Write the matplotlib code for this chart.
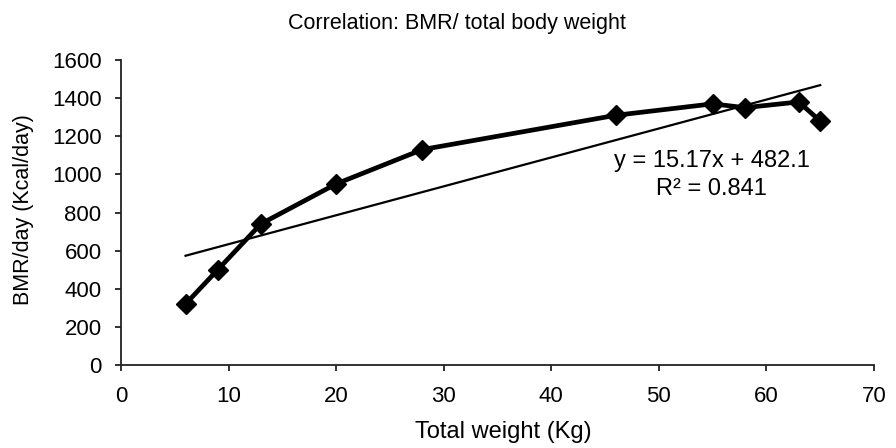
import matplotlib
matplotlib.use("Agg")
import matplotlib.pyplot as plt
import numpy as np

plt.rcParams['font.family'] = ['Liberation Sans', 'DejaVu Sans']

weight = [6, 9, 13, 20, 28, 46, 55, 58, 63, 65]
bmr = [320, 500, 740, 950, 1130, 1310, 1370, 1350, 1380, 1280]
slope = 15.17
intercept = 482.1
r2 = 0.841
x_ticks = [0, 10, 20, 30, 40, 50, 60, 70]
y_ticks = [0, 200, 400, 600, 800, 1000, 1200, 1400, 1600]

W, H = 896, 448
fig = plt.figure(figsize=(W / 100, H / 100), dpi=100)
ax = fig.add_axes([121 / W, 1 - 365 / H, (874 - 121) / W, (365 - 60) / H])

ax.plot(weight, bmr, color='black', linewidth=3.4, marker='D', markersize=10,
        zorder=3, solid_joinstyle='round')
tx = np.array([min(weight), max(weight)])
ax.plot(tx, slope * tx + intercept, color='black', linewidth=1.6, zorder=2)

ax.set_xlim(0, 70)
ax.set_ylim(0, 1600)
ax.set_xticks(x_ticks)
ax.set_yticks(y_ticks)
for s in ['top', 'right']:
    ax.spines[s].set_visible(False)
for s in ['left', 'bottom']:
    ax.spines[s].set_linewidth(1.3)
    ax.spines[s].set_color('#222222')
ax.tick_params(axis='both', direction='out', length=4, width=1.3,
               labelsize=16, colors='#222222', labelcolor='black')
ax.tick_params(axis='x', pad=11)
ax.tick_params(axis='y', pad=10)

fig.text(457 / W, 1 - 24 / H, 'Correlation: BMR/ total body weight',
         ha='center', va='center', fontsize=15.5)
fig.text(503 / W, 1 - 432 / H, 'Total weight (Kg)',
         ha='center', va='center', fontsize=17)
fig.text(23 / W, 1 - 210 / H, 'BMR/day (Kcal/day)', rotation=90,
         ha='center', va='center', fontsize=15.5)

ax.text(54.9, 1039, f'y = {slope}x + {intercept}', ha='center', va='baseline',
        fontsize=17)
ax.text(54.9, 892, f'R² = {r2}', ha='center', va='baseline', fontsize=17)

fig.savefig('out.png', dpi=100)
